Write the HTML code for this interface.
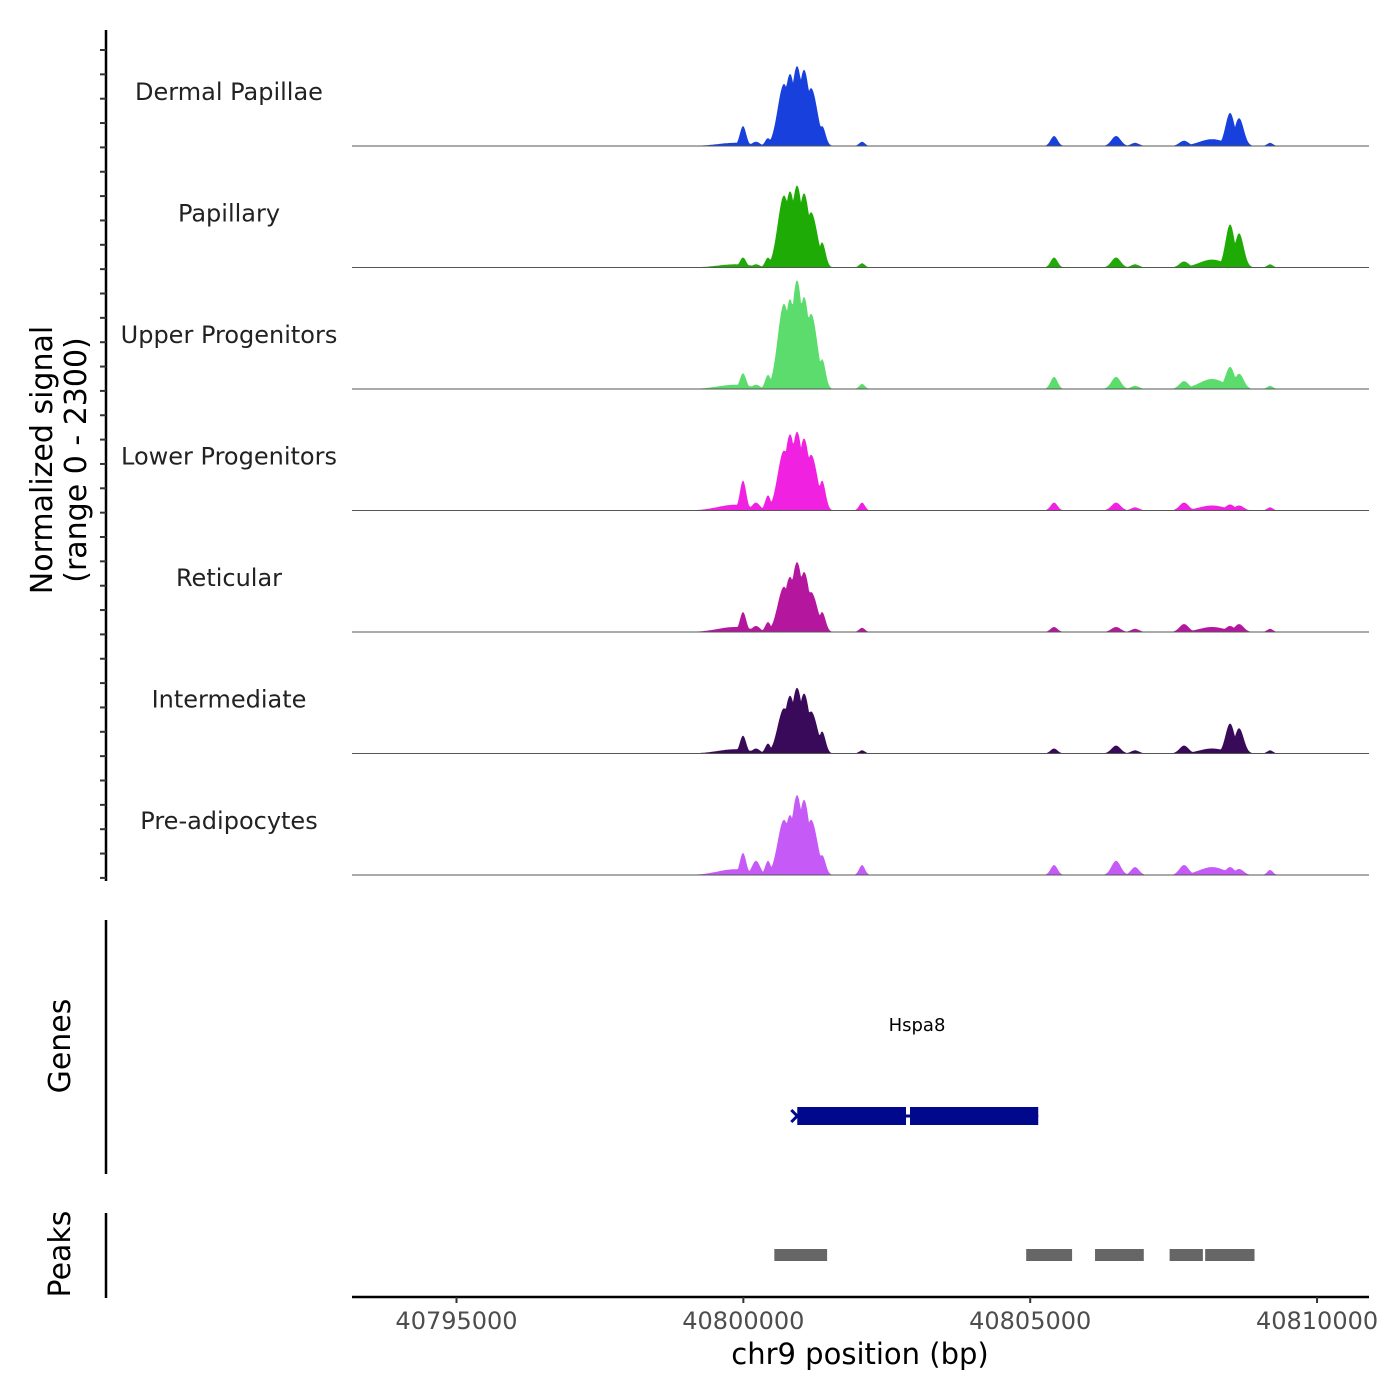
<!DOCTYPE html>
<html><head><meta charset="utf-8"><style>
html,body{margin:0;padding:0;background:#fff;}
svg{display:block;font-family:"DejaVu Sans","Liberation Sans",sans-serif;}
</style></head><body>
<svg id="chart" width="1400" height="1400" viewBox="0 0 1400 1400">
<g id="tracks"></g>
<g id="yaxis"></g>
<text x="52" y="460" font-size="30" text-anchor="middle" transform="rotate(-90 52 460)" fill="#000">Normalized signal</text>
<text x="86" y="460" font-size="30" text-anchor="middle" transform="rotate(-90 86 460)" fill="#000">(range 0 - 2300)</text>
<line x1="106" y1="920" x2="106" y2="1174" stroke="#000" stroke-width="2.5"/>
<text x="70" y="1046" font-size="30" text-anchor="middle" transform="rotate(-90 70 1046)">Genes</text>
<line x1="106" y1="1213" x2="106" y2="1298" stroke="#000" stroke-width="2.5"/>
<text x="70" y="1254" font-size="30" text-anchor="middle" transform="rotate(-90 70 1254)">Peaks</text>
<g id="genes"></g>
<g id="peaks"></g>
<g id="xaxis"></g>
<text x="860" y="1364" font-size="29" text-anchor="middle">chr9 position (bp)</text>
</svg>
<script>
const trackNames = ["Dermal Papillae","Papillary","Upper Progenitors","Lower Progenitors","Reticular","Intermediate","Pre-adipocytes"];
const trackColors = ["#1740dc","#1fab05","#5cdc6c","#f021e0","#b4169e","#3a0a5a","#c55af7"];
const peakCenters = [40799855,40799994,40800220,40800430,40800709,40800814,40800936,40801058,40801180,40801372,40802069,40805416,40806497,40806828,40807682,40808170,40808484,40808641,40809181];
const peakWidths  = [300,55,70,50,110,100,100,100,110,60,50,60,80,70,80,220,80,80,50];
const sigDP   = [60,380,80,150,1180,1370,1520,1450,1100,380,80,190,190,60,100,130,630,530,60];
const sigPap  = [60,190,60,190,1370,1450,1560,1410,1050,480,80,190,190,60,115,150,820,650,60];
const sigUp   = [80,300,80,270,1620,1710,2070,1750,1430,570,95,230,230,60,150,190,420,290,60];
const sigLow  = [110,570,150,290,1140,1450,1500,1370,1060,570,150,150,150,60,150,95,115,95,60];
const sigRet  = [95,380,115,190,860,1050,1330,1140,760,380,80,95,95,60,150,95,115,150,60];
const sigInt  = [80,340,95,190,860,1100,1250,1140,800,420,60,95,150,60,150,95,570,480,60];
const sigPre  = [110,420,270,270,1050,1140,1520,1430,1050,380,190,190,270,150,190,150,150,115,95];
const trackSignals = [sigDP,sigPap,sigUp,sigLow,sigRet,sigInt,sigPre];
const xTicks = [40795000,40800000,40805000,40810000];
const geneStart = 40800940, geneEnd = 40805140, geneGap = 40802870;
const peakStarts = [40800540,40804930,40806130,40807430,40808050];
const peakEnds   = [40801460,40805730,40806980,40808010,40808910];

const NS="http://www.w3.org/2000/svg";
const X0=352, X1=1369, BP0=40795000, PXBP=0.05737, XREF=456.5;
const xs = bp => XREF + (bp-BP0)*PXBP;
const bpOf = x => BP0 + (x-XREF)/PXBP;
const baseY0=146, trackStep=121.5, trackH=121, maxSig=2300;
const ys = v => v/maxSig*trackH;
function mk(tag, attrs, parent){const e=document.createElementNS(NS,tag);for(const k in attrs)e.setAttribute(k,attrs[k]);parent.appendChild(e);return e;}

const gT=document.getElementById('tracks');
trackNames.forEach((name,i)=>{
  const base=baseY0+i*trackStep;
  const sig=trackSignals[i];
  let d=`M${X0},${base}`;
  for(let x=X0;x<=X1;x+=1){
    const bp=bpOf(x);
    let v=0;
    for(let k=0;k<peakCenters.length;k++){
      const z=(bp-peakCenters[k])/peakWidths[k];
      v=Math.max(v,sig[k]*Math.exp(-z*z/2));
    }
    d+=`L${x},${(base-ys(v)).toFixed(1)}`;
  }
  d+=`L${X1},${base}Z`;
  const p=mk('path',{d:d,fill:trackColors[i]},gT);
  
  
  const l=mk('line',{x1:X0,x2:X1,y1:base,y2:base,stroke:'#555','stroke-width':1},gT);
  
  
  const t=mk('text',{x:229,y:base-46,'font-size':24,'text-anchor':'middle',fill:'#222'},gT);
  t.textContent=name;
  
  
});

const gY=document.getElementById('yaxis');
const ax=mk('line',{x1:106,x2:106,y1:30,y2:881,stroke:'#000','stroke-width':2.5},gY);


for(let y=50;y<=880;y+=24.35){
  const tk=mk('line',{x1:100,x2:106,y1:y,y2:y,stroke:'#333','stroke-width':2},gY);
  
  
}

const gG=document.getElementById('genes');
const gl=mk('text',{x:917,y:1031,'font-size':18,'text-anchor':'middle'},gG);
gl.textContent='Hspa8';


const gb1=mk('rect',{x:xs(geneStart),y:1107,width:xs(geneGap)-xs(geneStart)-2,height:18,fill:'#00088c'},gG);


const gb2=mk('rect',{x:xs(geneGap)+2,y:1107,width:xs(geneEnd)-xs(geneGap)-2,height:18,fill:'#00088c'},gG);


const gline=mk('line',{x1:xs(geneStart),x2:xs(geneEnd),y1:1116,y2:1116,stroke:'#00088c','stroke-width':3},gG);


const arr=mk('path',{d:`M${xs(geneStart)-6},1110 L${xs(geneStart)},1116 L${xs(geneStart)-6},1122`,stroke:'#00088c','stroke-width':3,fill:'none'},gG);



const gP=document.getElementById('peaks');
peakStarts.forEach((s,i)=>{
  const r=mk('rect',{x:xs(s),y:1249,width:xs(peakEnds[i])-xs(s),height:12,fill:'#666'},gP);
  
  
});

const gX=document.getElementById('xaxis');
const xl=mk('line',{x1:X0,x2:X1,y1:1297,y2:1297,stroke:'#000','stroke-width':2.5},gX);


xTicks.forEach(v=>{
  const tk=mk('line',{x1:xs(v),x2:xs(v),y1:1297,y2:1303,stroke:'#333','stroke-width':2},gX);
  
  
  const t=mk('text',{x:xs(v),y:1329,'font-size':24,'text-anchor':'middle',fill:'#4d4d4d'},gX);
  t.textContent=v;
  
  
});
</script>
</body></html>
